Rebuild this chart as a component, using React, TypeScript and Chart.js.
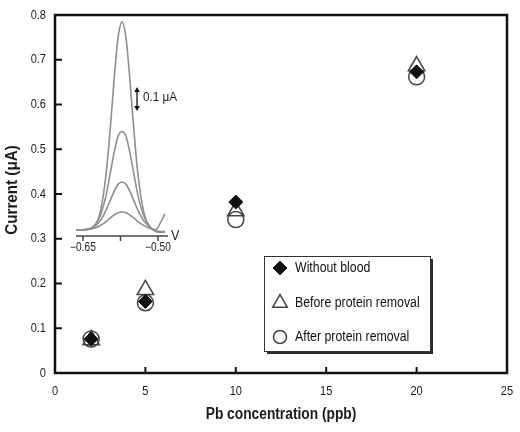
import React, { useEffect, useRef } from 'react';
import { Chart, registerables } from 'chart.js';

Chart.register(...registerables);

const FONT = "'Liberation Sans', Arial, sans-serif";

// ---- main chart data ----
const concentrations = [2, 5, 10, 20];
const withoutBlood = [0.076, 0.16, 0.382, 0.673];
const beforeRemoval = [0.074, 0.186, 0.362, 0.686];
const afterRemoval = [0.076, 0.157, 0.343, 0.662];
const seriesNames = ['Without blood', 'Before protein removal', 'After protein removal'];
const xTitle = 'Pb concentration (ppb)';
const yTitle = 'Current (\u03bcA)';

// ---- inset voltammogram data (current above baseline, µA) ----
const potentials = [-0.664, -0.652, -0.64, -0.628, -0.616, -0.604, -0.596, -0.588, -0.58, -0.572, -0.564, -0.556, -0.548, -0.54, -0.528, -0.516, -0.504, -0.494, -0.486];
const peak20 = [0, 0, 0.002, 0.015, 0.07, 0.23, 0.41, 0.62, 0.8, 0.867, 0.8, 0.62, 0.41, 0.23, 0.07, 0.012, -0.006, -0.008, -0.008];
const peak10 = [0, 0, 0.003, 0.016, 0.056, 0.143, 0.23, 0.32, 0.39, 0.41, 0.39, 0.32, 0.23, 0.143, 0.056, 0.012, -0.006, -0.008, -0.008];
const peak5 = [0, 0.001, 0.004, 0.013, 0.037, 0.082, 0.12, 0.16, 0.19, 0.2, 0.19, 0.16, 0.12, 0.082, 0.037, 0.01, -0.004, -0.006, -0.006];
const peak2 = [0, 0.001, 0.0025, 0.0075, 0.018, 0.035, 0.049, 0.062, 0.072, 0.075, 0.072, 0.062, 0.049, 0.035, 0.018, 0.006, 0.002, 0.035, 0.068];
const insetTicks = [-0.65, -0.575, -0.5];
const insetTickLabels = ['\u22120.65', '', '\u22120.50'];
const insetUnit = 'V';
const scaleBarLabel = '0.1 \u03bcA';
const scaleBarSize = 0.1;

function cText(ctx: CanvasRenderingContext2D, text: string, x: number, y: number, align: CanvasTextAlign, font: string, sx: number, rotate = false, color = '#1a1a1a') {
  ctx.save();
  ctx.translate(x, y);
  if (rotate) ctx.rotate(-Math.PI / 2);
  ctx.scale(sx, 1);
  ctx.font = font;
  ctx.textAlign = align;
  ctx.textBaseline = 'middle';
  ctx.fillStyle = color;
  ctx.fillText(text, 0, 0);
  ctx.restore();
}

function drawMarker(ctx: CanvasRenderingContext2D, style: string, x: number, y: number, r: number, fill: string, stroke: string, lw: number) {
  ctx.save();
  ctx.beginPath();
  if (style === 'rectRot') {
    ctx.moveTo(x - r, y);
    ctx.lineTo(x, y - r);
    ctx.lineTo(x + r, y);
    ctx.lineTo(x, y + r);
    ctx.closePath();
  } else if (style === 'triangle') {
    for (let i = 0; i < 3; i++) {
      const a = (i * 2 * Math.PI) / 3;
      const px = x + Math.sin(a) * r;
      const py = y - Math.cos(a) * r;
      if (i === 0) ctx.moveTo(px, py); else ctx.lineTo(px, py);
    }
    ctx.closePath();
  } else {
    ctx.arc(x, y, r, 0, Math.PI * 2);
  }
  if (fill && fill !== 'transparent') { ctx.fillStyle = fill; ctx.fill(); }
  ctx.lineWidth = lw;
  ctx.strokeStyle = stroke;
  ctx.stroke();
  ctx.restore();
}

const fmtTick = (v: number) => (Math.round(v * 10) / 10).toString();

const framePlugin = {
  id: 'frame',
  afterDraw(chart: any) {
    const { ctx, chartArea: a, scales } = chart;
    ctx.save();
    // inward ticks + labels
    ctx.strokeStyle = '#111';
    ctx.lineWidth = 2;
    const xs = scales.x.ticks;
    xs.forEach((t: any, i: number) => {
      const px = scales.x.getPixelForValue(t.value);
      if (i !== 0 && i !== xs.length - 1) {
        ctx.beginPath(); ctx.moveTo(px, a.bottom); ctx.lineTo(px, a.bottom - 6); ctx.stroke();
      }
      cText(ctx, fmtTick(t.value), px, a.bottom + 18, 'center', `13px ${FONT}`, 0.85);
    });
    const ys = scales.y.ticks;
    ys.forEach((t: any, i: number) => {
      const py = scales.y.getPixelForValue(t.value);
      if (i !== 0 && i !== ys.length - 1) {
        ctx.beginPath(); ctx.moveTo(a.left, py); ctx.lineTo(a.left + 7, py); ctx.stroke();
      }
      cText(ctx, fmtTick(t.value), a.left - 9, py, 'right', `13px ${FONT}`, 0.85);
    });
    // axis titles
    cText(ctx, xTitle, (a.left + a.right) / 2, 415, 'center', `bold 16px ${FONT}`, 0.86);
    cText(ctx, yTitle, 13, (a.top + a.bottom) / 2 - 4, 'center', `bold 16px ${FONT}`, 0.95, true);
    // frame
    ctx.lineWidth = 2.5;
    ctx.strokeStyle = '#111';
    ctx.strokeRect(a.left, a.top, a.right - a.left, a.bottom - a.top);

    // legend box
    const bx = 264, by = 256, bw = 166, bh = 95;
    ctx.fillStyle = '#2a2a2a';
    ctx.fillRect(bx + 3, by + 3, bw, bh);
    ctx.fillStyle = '#ffffff';
    ctx.fillRect(bx, by, bw, bh);
    ctx.lineWidth = 1;
    ctx.strokeStyle = '#333';
    ctx.strokeRect(bx + 0.5, by + 0.5, bw, bh);
    const rows = [268, 303, 337];
    chart.data.datasets.forEach((ds: any, i: number) => {
      const r = ds.pointStyle === 'triangle' ? 8.5 : ds.pointStyle === 'circle' ? 6.5 : 7;
      drawMarker(ctx, ds.pointStyle, 280, rows[i], r, ds.backgroundColor, ds.borderColor, ds.borderWidth);
      cText(ctx, ds.label, 295, rows[i], 'left', `14px ${FONT}`, 0.88, false, '#111');
    });
    ctx.restore();
  },
};

const insetPlugin = {
  id: 'insetAxis',
  afterDraw(chart: any) {
    const { ctx, scales: { x, y } } = chart;
    const axisY = y.bottom;
    ctx.save();
    ctx.strokeStyle = '#444';
    ctx.lineWidth = 1.5;
    ctx.beginPath(); ctx.moveTo(x.left, axisY); ctx.lineTo(x.right, axisY); ctx.stroke();
    insetTicks.forEach((v, i) => {
      const px = x.getPixelForValue(v);
      ctx.beginPath(); ctx.moveTo(px, axisY); ctx.lineTo(px, axisY + 5); ctx.stroke();
      if (insetTickLabels[i]) cText(ctx, insetTickLabels[i], px, axisY + 12, 'center', `12px ${FONT}`, 0.85, false, '#222');
    });
    cText(ctx, insetUnit, x.right + 3, axisY, 'left', `14px ${FONT}`, 0.9, false, '#222');

    // scale bar
    const ax = x.getPixelForValue(-0.542);
    const y0 = y.getPixelForValue(0.496);
    const y1 = y.getPixelForValue(0.496 + scaleBarSize);
    ctx.strokeStyle = '#111';
    ctx.fillStyle = '#111';
    ctx.lineWidth = 1.3;
    ctx.beginPath(); ctx.moveTo(ax, y0 - 3); ctx.lineTo(ax, y1 + 3); ctx.stroke();
    ctx.beginPath(); ctx.moveTo(ax, y1); ctx.lineTo(ax - 2.8, y1 + 5); ctx.lineTo(ax + 2.8, y1 + 5); ctx.closePath(); ctx.fill();
    ctx.beginPath(); ctx.moveTo(ax, y0); ctx.lineTo(ax - 2.8, y0 - 5); ctx.lineTo(ax + 2.8, y0 - 5); ctx.closePath(); ctx.fill();
    cText(ctx, scaleBarLabel, ax + 6, (y0 + y1) / 2 - 1, 'left', `13px ${FONT}`, 0.9, false, '#222');
    ctx.restore();
  },
};

export default function App() {
  const mainRef = useRef<HTMLCanvasElement>(null);
  const insetRef = useRef<HTMLCanvasElement>(null);

  useEffect(() => {
    const toPts = (vals: number[]) => concentrations.map((c, i) => ({ x: c, y: vals[i] }));
    const main = new Chart(mainRef.current!, {
      type: 'scatter',
      data: {
        datasets: [
          { label: seriesNames[0], data: toPts(withoutBlood), pointStyle: 'rectRot', pointRadius: 7, backgroundColor: '#111', borderColor: '#111', borderWidth: 1 },
          { label: seriesNames[1], data: toPts(beforeRemoval), pointStyle: 'triangle', pointRadius: 9.5, backgroundColor: 'transparent', borderColor: '#444', borderWidth: 1.5 },
          { label: seriesNames[2], data: toPts(afterRemoval), pointStyle: 'circle', pointRadius: 8, backgroundColor: 'transparent', borderColor: '#444', borderWidth: 1.5 },
        ],
      },
      options: {
        animation: false,
        responsive: false,
        devicePixelRatio: 1,
        events: [],
        layout: { padding: { top: 15, right: 13, left: 0, bottom: 0 } },
        plugins: { legend: { display: false }, tooltip: { enabled: false } },
        scales: {
          x: {
            type: 'linear', min: 0, max: 25,
            ticks: { stepSize: 5, display: false },
            grid: { display: false, drawTicks: false },
            border: { display: false },
            afterFit: (s: any) => { s.height = 59; s.paddingLeft = 0; s.paddingRight = 0; },
          },
          y: {
            type: 'linear', min: 0, max: 0.8,
            ticks: { stepSize: 0.1, display: false },
            grid: { display: false, drawTicks: false },
            border: { display: false },
            afterFit: (s: any) => { s.width = 55; s.paddingTop = 0; s.paddingBottom = 0; },
          },
        },
      } as any,
      plugins: [framePlugin],
    });

    const mk = (vals: number[]) => potentials.map((v, i) => ({ x: v, y: vals[i] }));
    const lineDs = (vals: number[]) => ({ data: mk(vals), borderColor: '#8f8f8f', borderWidth: 1.6, pointRadius: 0, cubicInterpolationMode: 'monotone', fill: false });
    const inset = new Chart(insetRef.current!, {
      type: 'line',
      data: { datasets: [lineDs(peak2), lineDs(peak5), lineDs(peak10), lineDs(peak20)] as any },
      options: {
        animation: false,
        responsive: false,
        devicePixelRatio: 1,
        events: [],
        layout: { padding: { left: 16, right: 22, top: 8, bottom: 24 } },
        plugins: { legend: { display: false }, tooltip: { enabled: false } },
        scales: {
          x: { type: 'linear', min: -0.664, max: -0.48, display: false },
          y: { type: 'linear', min: -0.025, max: 0.883, display: false },
        },
      } as any,
      plugins: [insetPlugin],
    });

    return () => { main.destroy(); inset.destroy(); };
  }, []);

  return (
    <div style={{ position: 'absolute', left: 0, top: 0, width: 520, height: 432, background: '#fff' }}>
      <canvas ref={mainRef} width={520} height={432} style={{ position: 'absolute', left: 0, top: 0 }} />
      <canvas ref={insetRef} width={130} height={250} style={{ position: 'absolute', left: 60, top: 10 }} />
    </div>
  );
}
